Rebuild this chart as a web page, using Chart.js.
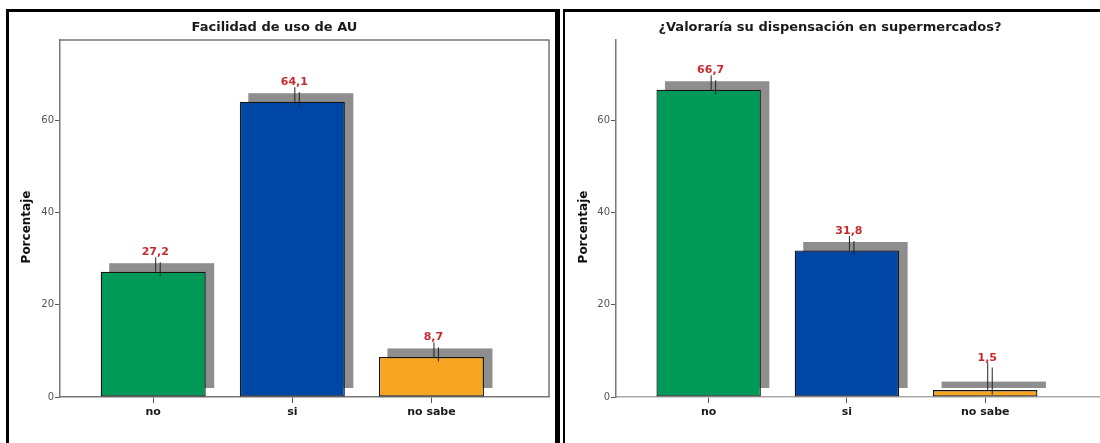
<!DOCTYPE html>
<html>
<head>
<meta charset="utf-8">
<script src="https://cdn.jsdelivr.net/npm/chart.js@4/dist/chart.umd.min.js"></script>
<style>
  html, body { margin: 0; padding: 0; background: #fff; overflow: hidden; }
  body { width: 1100px; height: 443px; position: relative; }
  .box { position: absolute; top: 0; height: 443px; }
  #boxUso { left: 0; width: 560px; }
  #boxSuper { left: 560px; width: 552px; }
  .frame { position: absolute; border: 0 solid #000; pointer-events: none; }
  #frameUso { left: 6px; top: 9px; width: 546px; height: 460px; border-left-width: 3px; border-top-width: 3px; border-right-width: 5px; }
  #frameSuper { left: 563px; top: 9px; width: 560px; height: 460px; border-left-width: 2px; border-top-width: 3px; }
</style>
</head>
<body>
<div class="box" id="boxUso"><canvas id="chartUso"></canvas></div>
<div class="box" id="boxSuper"><canvas id="chartSuper"></canvas></div>
<div class="frame" id="frameUso"></div>
<div class="frame" id="frameSuper"></div>
<script>
// Categories and percentages for both questions
const categories = ['no', 'si', 'no sabe'];
const usoValues = [27.2, 64.1, 8.7];
const superValues = [66.7, 31.8, 1.5];
const barColors = ['#009957', '#0046a5', '#f7a521'];
const yTicks = [0, 20, 40, 60];

const FONT = "'DejaVu Sans', sans-serif";
const DEPTH = 8.5;

// gray depth block behind bars, value labels with their leader lines, frame
const barDecor = {
  id: 'barDecor',
  beforeDatasetsDraw(chart) {
    const ctx = chart.ctx;
    ctx.save();
    ctx.fillStyle = '#8e8e8e';
    chart.getDatasetMeta(0).data.forEach(bar => {
      const p = bar.getProps(['x', 'y', 'base', 'width'], true);
      ctx.fillRect(p.x - p.width / 2 + DEPTH, p.y - DEPTH, p.width, p.base - p.y);
    });
    ctx.restore();
  },
  afterDatasetsDraw(chart, args, opts) {
    const ctx = chart.ctx;
    const values = chart.data.datasets[0].data;
    ctx.save();
    chart.getDatasetMeta(0).data.forEach((bar, i) => {
      const p = bar.getProps(['x', 'y', 'base'], true);
      const baseline = Math.min(p.y - 16.5, p.base - 36);
      const lx = p.x + 2;
      ctx.strokeStyle = '#222';
      ctx.lineWidth = 1;
      ctx.beginPath();
      ctx.moveTo(lx + 0.5, baseline + 2);
      ctx.lineTo(lx + 0.5, p.y);
      ctx.moveTo(lx + 5, baseline + 7);
      ctx.lineTo(lx + 5, p.y + 4.5);
      ctx.stroke();
      ctx.fillStyle = '#c62a2f';
      ctx.font = 'bold 11px ' + FONT;
      ctx.textAlign = 'center';
      ctx.textBaseline = 'alphabetic';
      ctx.fillText(values[i].y.toFixed(1).replace('.', ','), lx, baseline);
    });

    // vertical axis title
    const area = chart.chartArea;
    ctx.translate(opts.titleX, 227);
    ctx.rotate(-Math.PI / 2);
    ctx.fillStyle = '#111';
    ctx.font = 'bold 12px ' + FONT;
    ctx.textAlign = 'center';
    ctx.textBaseline = 'middle';
    ctx.fillText('Porcentaje', 0, 0);
    ctx.restore();

    if (opts.frame) {
      ctx.save();
      ctx.strokeStyle = '#777';
      ctx.lineWidth = 1.5;
      ctx.beginPath();
      ctx.moveTo(area.left, area.top);
      ctx.lineTo(area.right, area.top);
      ctx.lineTo(area.right, area.bottom);
      ctx.stroke();
      ctx.restore();
    }
  }
};

function makeChart(id, title, values, xMin, xMax, axisWidth, padRight, frame, titleX, xBorder) {
  return new Chart(document.getElementById(id), {
    type: 'bar',
    data: {
      datasets: [{
        data: values.map((v, i) => ({ x: i, y: v })),
        backgroundColor: barColors,
        borderColor: '#151515',
        borderWidth: 1.3,
        borderSkipped: false,
        categoryPercentage: 1,
        barPercentage: 0.755
      }]
    },
    options: {
      responsive: true,
      maintainAspectRatio: false,
      animation: false,
      layout: { padding: { left: 0, right: padRight, top: 0, bottom: 0 } },
      plugins: {
        legend: { display: false },
        tooltip: { enabled: false },
        title: {
          display: true,
          text: title,
          color: '#1a1a1a',
          font: { family: FONT, size: 13, weight: 'bold', lineHeight: 1.2 },
          padding: { top: 20, bottom: 4.4 }
        },
        barDecor: { frame: frame, titleX: titleX }
      },
      scales: {
        x: {
          type: 'linear',
          min: xMin,
          max: xMax,
          offset: false,
          afterBuildTicks: s => { s.ticks = categories.map((c, i) => ({ value: i })); },
          afterFit: s => { s.height = 46; },
          grid: { offset: false, drawOnChartArea: false, drawTicks: true, tickLength: 6, color: '#555' },
          border: { display: true, color: xBorder, width: 1.5 },
          ticks: {
            padding: 3,
            color: '#1a1a1a',
            font: { family: FONT, size: 11, weight: 'bold' },
            callback: v => categories[v]
          }
        },
        y: {
          min: 0,
          max: 77.5,
          afterBuildTicks: s => { s.ticks = yTicks.map(v => ({ value: v })); },
          afterFit: s => { s.width = axisWidth; },
          grid: { drawOnChartArea: false, drawTicks: true, tickLength: 5, color: '#555' },
          border: { display: true, color: '#7a7a7a', width: 1.5 },
          ticks: {
            padding: 1,
            color: '#555',
            font: { family: FONT, size: 10 }
          }
        }
      }
    },
    plugins: [barDecor]
  });
}

makeChart('chartUso', 'Facilidad de uso de AU', usoValues, -0.670, 2.845, 60, 11, true, 27, '#777');
makeChart('chartSuper', '¿Valoraría su dispensación en supermercados?', superValues, -0.670, 2.830, 56, 12, false, 24, '#aaa');
</script>
</body>
</html>
